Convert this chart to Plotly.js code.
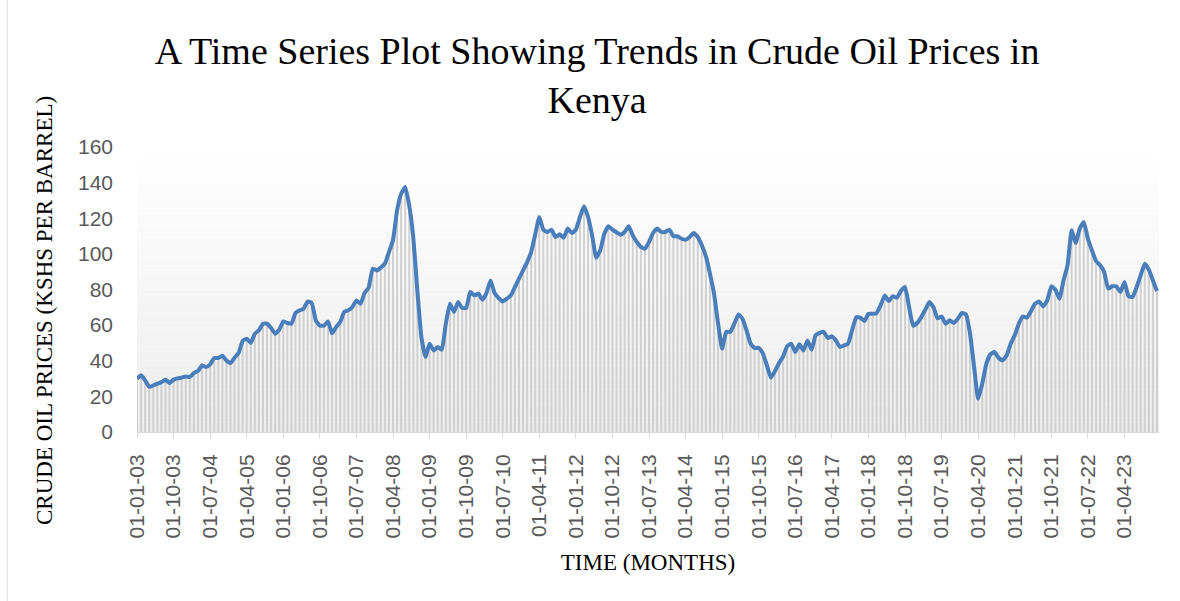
<!DOCTYPE html>
<html><head><meta charset="utf-8">
<script src="https://cdn.plot.ly/plotly-3.0.1.min.js"></script>
<style>html,body{margin:0;padding:0;background:#fff;} #chart{width:1180px;height:601px;}</style>
</head><body><div id="chart"></div>
<script>
// Monthly crude oil prices (KSHS per barrel), Jan 2003 - Dec 2023
const prices = [
  29.9, 31.8, 29.0, 25.3, 26.2, 27.1, 28.0, 29.4, 27.5, 29.4, 30.1, 30.5,   // 2003
  31.2, 30.9, 33.1, 34.2, 37.4, 36.5, 38.0, 41.5, 41.5, 42.8, 40.2, 38.7,   // 2004
  41.7, 44.3, 51.1, 52.4, 50.0, 55.2, 57.1, 60.8, 60.8, 58.4, 55.2, 57.4,   // 2005
  62.1, 61.2, 60.8, 66.8, 68.3, 69.2, 73.3, 72.4, 62.7, 59.7, 59.7, 62.1,   // 2006
  55.4, 58.9, 61.7, 67.4, 68.3, 70.2, 73.9, 72.0, 78.0, 81.0, 91.7, 90.7,   // 2007
  92.3, 94.5, 101.0, 107.6, 124.4, 133.8, 137.5, 127.0, 109.0, 79.0, 53.0, 42.1, // 2008
  49.6, 45.8, 47.7, 46.2, 60.8, 72.0, 67.4, 73.0, 69.6, 69.6, 78.6, 76.7,   // 2009
  77.6, 74.3, 78.0, 85.1, 78.0, 75.2, 73.3, 74.8, 76.7, 81.4, 86.1, 90.7,   // 2010
  95.4, 101.0, 111.0, 120.7, 113.6, 112.3, 113.6, 109.5, 111.0, 109.1, 114.2, 111.7, // 2011
  113.6, 120.7, 126.7, 120.7, 110.4, 97.9, 102.0, 111.3, 115.5, 113.6, 112.1, 110.8, // 2012
  112.3, 115.5, 110.4, 106.7, 103.9, 102.9, 106.7, 111.7, 114.2, 112.3, 112.3, 113.6, // 2013
  109.9, 109.9, 108.5, 108.0, 109.5, 111.7, 109.5, 104.8, 98.6, 88.9, 77.6, 60.8,  // 2014
  46.8, 56.2, 56.2, 60.8, 66.0, 63.6, 57.1, 49.6, 47.1, 47.3, 44.3, 37.4,   // 2015
  30.5, 34.2, 38.7, 42.5, 48.1, 49.6, 44.9, 49.2, 45.8, 51.4, 46.2, 54.3,   // 2016
  55.6, 56.2, 52.8, 53.7, 51.4, 47.7, 48.6, 49.6, 57.4, 64.5, 64.2, 62.3,   // 2017
  66.4, 66.4, 66.8, 71.1, 76.7, 73.5, 76.2, 75.4, 79.2, 81.4, 70.2, 59.7,   // 2018
  61.2, 64.5, 68.7, 73.0, 70.0, 63.8, 64.9, 60.8, 62.7, 61.2, 63.6, 66.8,   // 2019
  66.0, 55.2, 36.5, 18.7, 27.1, 38.3, 43.6, 44.9, 41.7, 40.2, 43.0, 49.6,   // 2020
  54.3, 60.8, 64.9, 64.2, 67.9, 72.0, 73.3, 70.5, 73.9, 81.8, 79.9, 74.8,   // 2021
  85.1, 93.6, 113.2, 106.1, 114.2, 117.9, 108.5, 102.0, 96.0, 93.6, 89.8, 80.5, // 2022
  81.8, 81.8, 78.6, 84.2, 76.2, 75.8, 81.4, 88.0, 94.5, 91.1, 85.1, 79.2    // 2023
];

// Category labels (dd-mm-yy, first of each month)
const months = [];
for (let y = 2003; y <= 2023; y++) {
  for (let m = 1; m <= 12; m++) {
    months.push('01-' + String(m).padStart(2, '0') + '-' + String(y % 100).padStart(2, '0'));
  }
}
// Every ninth month is labelled on the axis
const tickLabels = months.filter((_, i) => i % 9 === 0);
const yTicks = [0, 20, 40, 60, 80, 100, 120, 140, 160];

const chartTitle = 'A Time Series Plot Showing Trends in Crude Oil Prices in<br>Kenya';
const xTitle = 'TIME (MONTHS)';
const yTitle = 'CRUDE OIL PRICES (KSHS PER BARREL)';

// plot-area vertical gradient (white at top to light grey at bottom)
const shapes = [];
const bands = 60;
for (let k = 0; k < bands; k++) {
  const t = (k + 0.5) / bands;           // 0 at bottom, 1 at top
  const c = Math.round(236 + (255 - 236) * t);
  shapes.push({
    type: 'rect', xref: 'x domain', yref: 'y domain', layer: 'below',
    x0: 0, x1: 1, y0: k / bands, y1: (k + 1) / bands,
    fillcolor: 'rgb(' + c + ',' + c + ',' + c + ')', line: {width: 0}
  });
}
// end tick at the right edge of the axis
shapes.push({
  type: 'line', xref: 'x domain', yref: 'y', ysizemode: 'pixel', yanchor: 0,
  x0: 1, x1: 1, y0: 0, y1: -5, line: {color: '#d9d9d9', width: 1}
});
// chart-area border on the left
shapes.push({
  type: 'line', xref: 'paper', yref: 'paper',
  x0: -0.127, x1: -0.127, y0: -0.6, y1: 1.6, line: {color: '#d9d9d9', width: 1}
});

const traces = [
  {
    type: 'bar', x: months, y: prices,
    marker: {color: '#d0d0d0', line: {width: 0}},
    hoverinfo: 'skip', showlegend: false
  },
  {
    type: 'scatter', mode: 'lines', x: months, y: prices,
    line: {color: '#4a7ebb', width: 4, shape: 'spline', smoothing: 0.4},
    showlegend: false
  }
];

const layout = {
  width: 1180, height: 601,
  margin: {l: 137, r: 21, t: 147, b: 169, pad: 0},
  paper_bgcolor: '#ffffff', plot_bgcolor: '#ffffff',
  bargap: 0.5,
  showlegend: false,
  title: {
    text: chartTitle,
    font: {family: 'Liberation Serif, Times New Roman, serif', size: 38, color: '#000000'},
    xref: 'container', x: 0.506, xanchor: 'center',
    yref: 'container', y: 0.894, yanchor: 'top'
  },
  xaxis: {
    type: 'category',
    range: [0, 251.5],
    tickmode: 'array', tickvals: tickLabels, ticktext: tickLabels,
    tickangle: -90,
    ticks: 'outside', ticklen: 5, tickcolor: '#d9d9d9', tickwidth: 1,
    ticklabelstandoff: 8,
    showline: true, linecolor: '#d9d9d9', linewidth: 1,
    showgrid: false, zeroline: false,
    tickfont: {family: 'Liberation Sans, Arial, sans-serif', size: 21, color: '#595959'},
    title: {text: xTitle, font: {family: 'Liberation Serif, Times New Roman, serif', size: 23, color: '#000000'}, standoff: 16},
    automargin: false
  },
  yaxis: {
    range: [0, 160],
    tickmode: 'array', tickvals: yTicks,
    showgrid: false, zeroline: false, showline: false, ticks: '',
    ticklabelstandoff: 23,
    tickfont: {family: 'Liberation Sans, Arial, sans-serif', size: 21, color: '#595959'},
    automargin: false
  },
  shapes: shapes,
  annotations: [{
    text: yTitle, textangle: -90, showarrow: false,
    xref: 'paper', yref: 'paper', x: -0.091, y: 0.428,
    xanchor: 'center', yanchor: 'middle',
    font: {family: 'Liberation Serif, Times New Roman, serif', size: 23, color: '#000000'}
  }]
};

Plotly.newPlot('chart', traces, layout, {displayModeBar: false, staticPlot: true});
</script>
</body></html>
